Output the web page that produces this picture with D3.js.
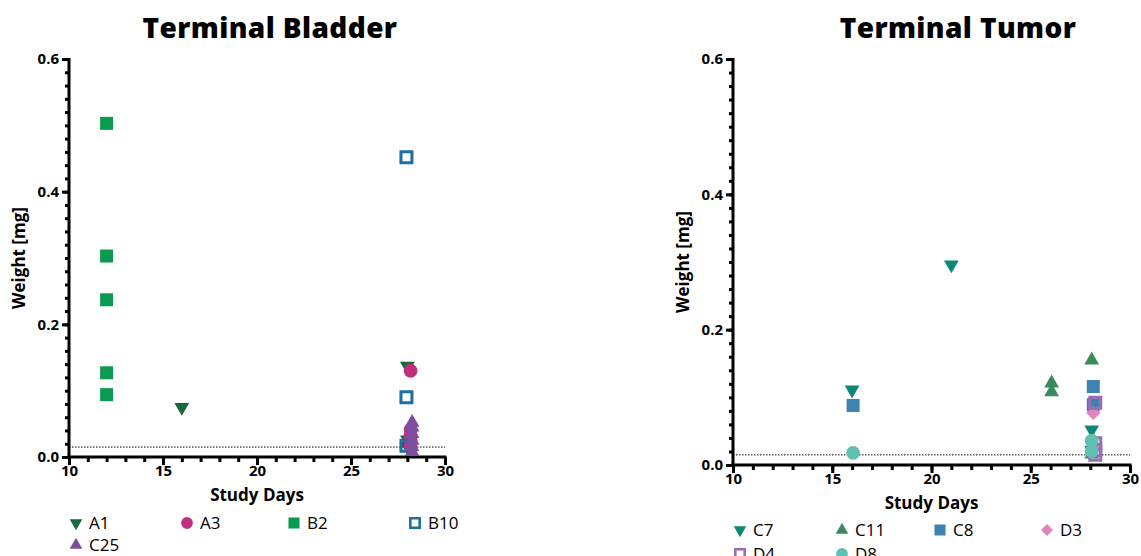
<!DOCTYPE html>
<html><head><meta charset="utf-8">
<script src="https://cdn.jsdelivr.net/npm/d3@7"></script>
<style>body{margin:0;background:#fff;}svg{display:block;font-family:"Open Sans","Lato","DejaVu Sans",sans-serif;}</style>
</head><body>
<svg id="c" width="1141" height="556"></svg>
<script>
const xTicks = [10, 15, 20, 25, 30];
const yTicks = [0.0, 0.2, 0.4, 0.6];
const threshold = 0.015;

// Terminal Bladder
const bladderSeries = ["A1", "A3", "B2", "B10", "C25"];
const A1_days = [16, 28, 28, 28];
const A1_wt = [0.075, 0.137, 0.026, 0.016];
const A3_days = [28.17, 28.17, 28.17, 28.17, 28.17];
const A3_wt = [0.130, 0.041, 0.033, 0.025, 0.018];
const B2_days = [12, 12, 12, 12, 12];
const B2_wt = [0.503, 0.303, 0.237, 0.127, 0.094];
const B10_days = [27.95, 27.95, 27.95];
const B10_wt = [0.452, 0.090, 0.017];
const C25_days = [28.25, 28.25, 28.25, 28.25, 28.25, 28.25];
const C25_wt = [0.052, 0.045, 0.035, 0.025, 0.015, 0.008];

// Terminal Tumor
const tumorSeries = ["C7", "C11", "C8", "D3", "D4", "D8"];
const C7_days = [16, 21, 28.07, 28.07];
const C7_wt = [0.111, 0.296, 0.052, 0.022];
const C11_days = [26.05, 26.05, 28.07, 28.07];
const C11_wt = [0.121, 0.108, 0.155, 0.016];
const C8_days = [16.05, 28.15, 28.15];
const C8_wt = [0.088, 0.116, 0.089];
const D3_days = [28.15, 28.15, 28.15];
const D3_wt = [0.077, 0.030, 0.021];
const D4_days = [28.25, 28.25, 28.25, 28.25];
const D4_wt = [0.092, 0.032, 0.022, 0.015];
const D8_days = [16.05, 28.07, 28.07];
const D8_wt = [0.018, 0.036, 0.020];

const styles = {
  A1: {shape: "tdown", color: "#17683a", fill: true},
  A3: {shape: "circle", color: "#c1307f", fill: true},
  B2: {shape: "square", color: "#0b9a50", fill: true},
  B10: {shape: "square", color: "#1b6fa8", fill: false},
  C25: {shape: "tup", color: "#7b4f9e", fill: true},
  C7: {shape: "tdown", color: "#0f8775", fill: true},
  C11: {shape: "tup", color: "#3a8b5b", fill: true},
  C8: {shape: "square", color: "#3c83b2", fill: true},
  D3: {shape: "diamond", color: "#df84bf", fill: true},
  D4: {shape: "square", color: "#9a6cb3", fill: false},
  D8: {shape: "circle", color: "#60c0b2", fill: true}
};
const seriesData = {
  A1: [A1_days, A1_wt], A3: [A3_days, A3_wt], B2: [B2_days, B2_wt], B10: [B10_days, B10_wt], C25: [C25_days, C25_wt],
  C7: [C7_days, C7_wt], C11: [C11_days, C11_wt], C8: [C8_days, C8_wt], D3: [D3_days, D3_wt], D4: [D4_days, D4_wt], D8: [D8_days, D8_wt]
};

const svg = d3.select("#c");

function drawMarker(g, name, x, y) {
  const s = styles[name];
  let el;
  if (s.shape === "circle") {
    el = g.append("path").attr("d", d3.symbol(d3.symbolCircle, 150)());
  } else if (s.shape === "square") {
    el = g.append("path").attr("d", s.fill ? d3.symbol(d3.symbolSquare, 169)() : d3.symbol(d3.symbolSquare, 121)());
  } else if (s.shape === "diamond") {
    el = g.append("path").attr("d", d3.symbol(d3.symbolSquare, 100)()).attr("data-rot", 45);
  } else if (s.shape === "tup") {
    el = g.append("path").attr("d", d3.symbol(d3.symbolTriangle, 95)());
  } else {
    el = g.append("path").attr("d", d3.symbol(d3.symbolTriangle, 95)()).attr("data-rot", 180);
  }
  const rot = el.attr("data-rot");
  el.attr("transform", `translate(${x},${y})` + (rot ? ` rotate(${rot})` : ""));
  if (s.fill) el.attr("fill", s.color).attr("stroke", "none");
  else el.attr("fill", "none").attr("stroke", s.color).attr("stroke-width", 3);
}

function panel(cfg) {
  const {x0, x1, y0, y1, title, titleX, series, legendCols, legendY, rowGap} = cfg;
  const x = d3.scaleLinear().domain([10, 30]).range([x0, x1]);
  const y = d3.scaleLinear().domain([0, 0.6]).range([y1, y0]);
  const g = svg.append("g");

  g.append("text").attr("x", titleX).attr("y", 38).attr("text-anchor", "middle")
    .attr("font-size", 28).attr("font-weight", 800).attr("letter-spacing", 0.4).attr("fill", "#000").text(title);

  // threshold dotted line
  g.append("line").attr("x1", x0).attr("x2", x1).attr("y1", y(threshold)).attr("y2", y(threshold))
    .attr("stroke", "#000").attr("stroke-width", 1).attr("stroke-dasharray", "1.5,1.5");

  // y axis
  const ya = g.append("g").attr("transform", `translate(${x0},0)`);
  ya.call(d3.axisLeft(y).tickValues(d3.range(0, 0.6001, 0.02)).tickSize(4).tickFormat(""));
  ya.selectAll(".tick line").attr("stroke-width", 3);
  ya.select(".domain").remove();
  const ya2 = g.append("g").attr("transform", `translate(${x0},0)`);
  ya2.call(d3.axisLeft(y).tickValues(yTicks).tickSize(7).tickPadding(3).tickFormat(d3.format(".1f")));
  ya2.selectAll(".tick line").attr("stroke-width", 3);
  ya2.selectAll("text").attr("font-size", 15).attr("font-weight", 700).attr("fill", "#000").attr("font-family", "Open Sans");
  ya2.select(".domain").remove();
  g.append("line").attr("x1", x0).attr("x2", x0).attr("y1", y0 - 1).attr("y2", y1 + 1.5)
    .attr("stroke", "#000").attr("stroke-width", 3);

  // x axis
  const xa = g.append("g").attr("transform", `translate(0,${y1})`);
  xa.call(d3.axisBottom(x).tickValues(d3.range(10, 31, 1)).tickSize(5).tickFormat(""));
  xa.selectAll(".tick line").attr("stroke-width", 3);
  xa.select(".domain").remove();
  const xa2 = g.append("g").attr("transform", `translate(0,${y1})`);
  xa2.call(d3.axisBottom(x).tickValues(xTicks).tickSize(8).tickPadding(0).tickFormat(d3.format("d")));
  xa2.selectAll(".tick line").attr("stroke-width", 3);
  xa2.selectAll("text").attr("font-size", 15).attr("font-weight", 700).attr("fill", "#000").attr("font-family", "Open Sans");
  xa2.select(".domain").remove();
  g.append("line").attr("x1", x0 - 1.5).attr("x2", x1 + 1.5).attr("y1", y1).attr("y2", y1)
    .attr("stroke", "#000").attr("stroke-width", 3);

  // axis titles
  g.append("text").attr("x", (x0 + x1) / 2).attr("y", y1 + 44).attr("text-anchor", "middle")
    .attr("font-size", 17).attr("font-weight", 700).attr("fill", "#000").text("Study Days");
  g.append("text").attr("transform", `translate(${x0 - 44},${(y0 + y1) / 2}) rotate(-90)`)
    .attr("text-anchor", "middle").attr("font-size", 17).attr("font-weight", 700).attr("fill", "#000").text("Weight [mg]");

  // points
  const pg = g.append("g");
  series.forEach(name => {
    const [ds, ws] = seriesData[name];
    ds.forEach((d, i) => drawMarker(pg, name, x(d), y(ws[i])));
  });

  // legend
  const lg = g.append("g");
  series.forEach((name, i) => {
    const col = i % 4, row = Math.floor(i / 4);
    const mx = legendCols[col], my = legendY + row * rowGap;
    const shrink = lg.append("g");
    drawMarker(shrink, name, 0, 0);
    shrink.attr("transform", `translate(${mx},${my}) scale(0.85)`);
    lg.append("text").attr("x", mx + 13).attr("y", my + 6).attr("font-size", 17)
      .attr("fill", "#000").text(name);
  });
}

panel({x0: 69, x1: 445, y0: 59, y1: 457, title: "Terminal Bladder", titleX: 270,
  series: bladderSeries, legendCols: [76, 187, 294, 415], legendY: 523, rowGap: 22});
panel({x0: 733, x1: 1130, y0: 59, y1: 465, title: "Terminal Tumor", titleX: 958,
  series: tumorSeries, legendCols: [740, 842, 940, 1047], legendY: 530, rowGap: 24});
</script>
</body></html>
